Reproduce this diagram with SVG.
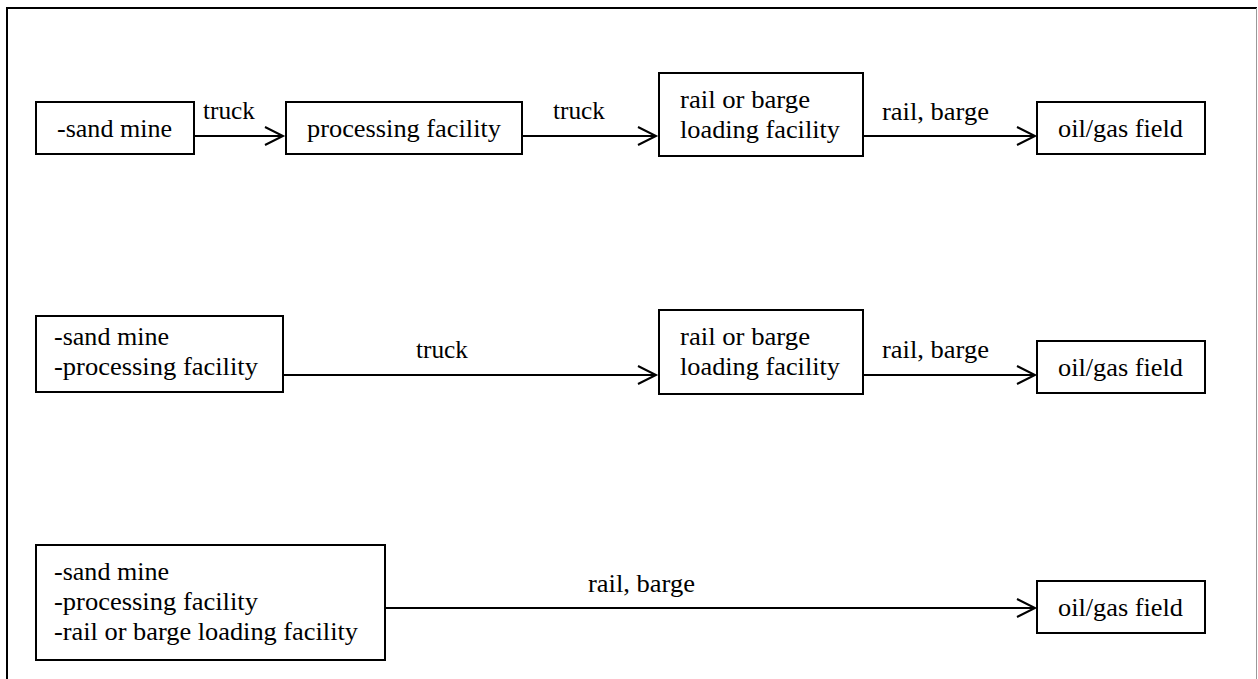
<svg xmlns="http://www.w3.org/2000/svg" width="1258" height="679" viewBox="0 0 1258 679">
<style>
.box{fill:#fff;stroke:#000;stroke-width:2}
.lbl{font-family:'Liberation Serif',serif;font-size:25px}
.c{stroke:#000;stroke-width:2;fill:none}
</style>
<defs>
<marker id="ah" markerUnits="userSpaceOnUse" markerWidth="22" markerHeight="22" refX="19" refY="10" orient="auto" viewBox="0 0 22 20">
<path d="M1,1 L19,10 L1,19" fill="none" stroke="#000" stroke-width="2"/>
</marker>
</defs>
<rect x="0" y="0" width="1258" height="679" fill="#fff"/>
<g id="frame">
<line x1="7" y1="7" x2="7" y2="679" stroke="#000" stroke-width="2"/>
<line x1="6" y1="8" x2="1257" y2="8" stroke="#000" stroke-width="2"/>
<line x1="1256.5" y1="8" x2="1256.5" y2="679" stroke="#999" stroke-width="1"/>
</g>
<g id="connectors">
<line class="c" x1="194" y1="136" x2="283" y2="136" marker-end="url(#ah)"/>
<line class="c" x1="522" y1="136" x2="656" y2="136" marker-end="url(#ah)"/>
<line class="c" x1="863" y1="136" x2="1035" y2="136" marker-end="url(#ah)"/>
<line class="c" x1="283" y1="375" x2="656" y2="375" marker-end="url(#ah)"/>
<line class="c" x1="863" y1="375" x2="1035" y2="375" marker-end="url(#ah)"/>
<line class="c" x1="385" y1="608" x2="1035" y2="608" marker-end="url(#ah)"/>
<text class="lbl" x="203" y="119" textLength="52" lengthAdjust="spacingAndGlyphs">truck</text>
<text class="lbl" x="553" y="119" textLength="52" lengthAdjust="spacingAndGlyphs">truck</text>
<text class="lbl" x="882" y="120" textLength="107" lengthAdjust="spacingAndGlyphs">rail, barge</text>
<text class="lbl" x="416" y="358" textLength="52" lengthAdjust="spacingAndGlyphs">truck</text>
<text class="lbl" x="882" y="358" textLength="107" lengthAdjust="spacingAndGlyphs">rail, barge</text>
<text class="lbl" x="588" y="592" textLength="107" lengthAdjust="spacingAndGlyphs">rail, barge</text>
</g>
<g id="n1-mine">
<rect class="box" x="36" y="102" width="158" height="52"/>
<text class="lbl" x="57" y="137" textLength="115" lengthAdjust="spacingAndGlyphs">-sand mine</text>
</g>
<g id="n1-processing">
<rect class="box" x="286" y="102" width="236" height="52"/>
<text class="lbl" x="307" y="137" textLength="194" lengthAdjust="spacingAndGlyphs">processing facility</text>
</g>
<g id="n1-loading">
<rect class="box" x="659" y="73" width="204" height="83"/>
<text class="lbl" x="680" y="108" textLength="130" lengthAdjust="spacingAndGlyphs">rail or barge</text>
<text class="lbl" x="680" y="138" textLength="160" lengthAdjust="spacingAndGlyphs">loading facility</text>
</g>
<g id="n1-field">
<rect class="box" x="1037" y="102" width="168" height="52"/>
<text class="lbl" x="1058" y="137" textLength="125" lengthAdjust="spacingAndGlyphs">oil/gas field</text>
</g>
<g id="n2-mine-processing">
<rect class="box" x="36" y="316" width="247" height="76"/>
<text class="lbl" x="54" y="345" textLength="115" lengthAdjust="spacingAndGlyphs">-sand mine</text>
<text class="lbl" x="54" y="375" textLength="204" lengthAdjust="spacingAndGlyphs">-processing facility</text>
</g>
<g id="n2-loading">
<rect class="box" x="659" y="310" width="204" height="84"/>
<text class="lbl" x="680" y="345" textLength="130" lengthAdjust="spacingAndGlyphs">rail or barge</text>
<text class="lbl" x="680" y="375" textLength="160" lengthAdjust="spacingAndGlyphs">loading facility</text>
</g>
<g id="n2-field">
<rect class="box" x="1037" y="341" width="168" height="52"/>
<text class="lbl" x="1058" y="376" textLength="125" lengthAdjust="spacingAndGlyphs">oil/gas field</text>
</g>
<g id="n3-all">
<rect class="box" x="36" y="545" width="349" height="115"/>
<text class="lbl" x="54" y="580" textLength="115" lengthAdjust="spacingAndGlyphs">-sand mine</text>
<text class="lbl" x="54" y="610" textLength="204" lengthAdjust="spacingAndGlyphs">-processing facility</text>
<text class="lbl" x="54" y="640" textLength="304" lengthAdjust="spacingAndGlyphs">-rail or barge loading facility</text>
</g>
<g id="n3-field">
<rect class="box" x="1037" y="581" width="168" height="52"/>
<text class="lbl" x="1058" y="616" textLength="125" lengthAdjust="spacingAndGlyphs">oil/gas field</text>
</g>
</svg>
